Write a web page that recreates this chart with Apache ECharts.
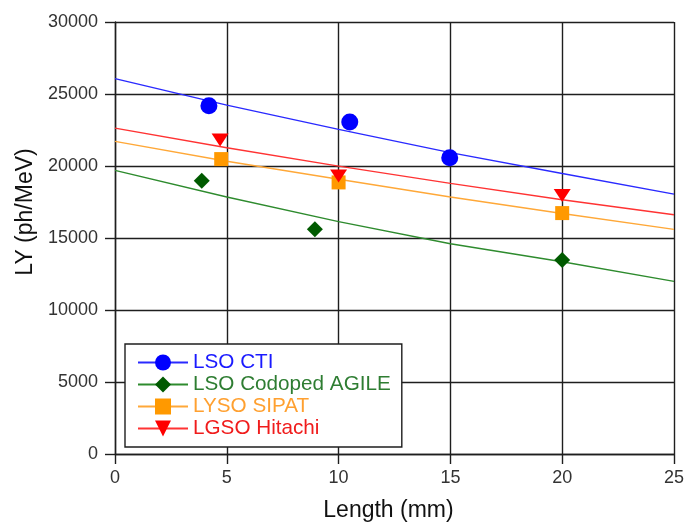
<!DOCTYPE html>
<html>
<head>
<meta charset="utf-8">
<script src="https://cdn.jsdelivr.net/npm/echarts@6/dist/echarts.min.js"></script>
<style>html,body{margin:0;padding:0;background:#fff}#chart{width:687px;height:527px}</style>
</head>
<body>
<div id="chart"></div>
<script>
// Measured points
const ctiX = [4.2, 10.5, 14.97];
const ctiY = [24190, 23050, 20580];
const agileX = [3.88, 8.94, 20];
const agileY = [18970, 15600, 13470];
const sipatX = [4.75, 10, 20];
const sipatY = [20480, 18860, 16730];
const hitachiX = [4.7, 10, 20];
const hitachiY = [21800, 19300, 17950];

// Fitted curves
const fitX = [0, 5, 10, 15, 20, 25];
const ctiFit = [26065, 24230, 22540, 20930, 19475, 18050];
const agileFit = [19700, 17850, 16140, 14600, 13350, 11990];
const sipatFit = [21710, 20330, 19080, 17850, 16700, 15600];
const hitachiFit = [22630, 21270, 19990, 18790, 17660, 16610];

const names = ['LSO CTI', 'LSO Codoped AGILE', 'LYSO SIPAT', 'LGSO Hitachi'];
const yTicks = [0, 5000, 10000, 15000, 20000, 25000, 30000];
const xTicks = [0, 5, 10, 15, 20, 25];

const FONT = 'Liberation Sans, Arial, sans-serif';
const zip = (xs, ys) => xs.map((x, i) => [x, ys[i]]);

const styles = [
  {marker: '#0000ff', line: '#2a2aff', text: '#1a1aff', symbol: 'circle', size: 17, rotate: 0},
  {marker: '#005a00', line: '#2e8b2e', text: '#2e7d32', symbol: 'diamond', size: 16, rotate: 0},
  {marker: '#ff9900', line: '#ffa838', text: '#ffa030', symbol: 'rect', size: 14, rotate: 0},
  {marker: '#ff0000', line: '#ff3333', text: '#f01c1c', symbol: 'triangle', size: [17, 13], rotate: 180}
];
const pts = [zip(ctiX, ctiY), zip(agileX, agileY), zip(sipatX, sipatY), zip(hitachiX, hitachiY)];
const fits = [zip(fitX, ctiFit), zip(fitX, agileFit), zip(fitX, sipatFit), zip(fitX, hitachiFit)];

const series = [];
names.forEach((n, i) => {
  const s = styles[i];
  series.push({
    name: n, type: 'line', data: fits[i], showSymbol: false,
    symbol: s.symbol, symbolRotate: s.rotate, z: 2,
    itemStyle: {color: s.marker},
    lineStyle: {color: s.line, width: 1.4},
    silent: true, animation: false
  });
});
names.forEach((n, i) => {
  const s = styles[i];
  series.push({
    name: n, type: 'scatter', data: pts[i],
    symbol: s.symbol, symbolSize: s.size, symbolRotate: s.rotate, z: 3,
    itemStyle: {color: s.marker, opacity: 1},
    animation: false
  });
});

const axisCommon = {
  axisLine: {show: true, onZero: false, lineStyle: {color: '#1e1e1e', width: 1.4}},
  axisTick: {show: true, inside: false, length: 10, lineStyle: {color: '#1e1e1e', width: 1.4}},
  splitLine: {show: true, lineStyle: {color: '#1e1e1e', width: 1.4}},
  nameLocation: 'middle'
};

const chart = echarts.init(document.getElementById('chart'), null, {renderer: 'canvas'});
chart.setOption({
  animation: false,
  backgroundColor: '#fff',
  grid: {left: 115, right: 9, top: 22, bottom: 68, containLabel: false},
  xAxis: Object.assign({}, axisCommon, {
    type: 'value', min: xTicks[0], max: xTicks[xTicks.length - 1], interval: 5,
    name: 'Length (mm)', nameGap: 45,
    nameTextStyle: {fontFamily: FONT, fontSize: 23, color: '#111', padding: [0, 12, 0, 0]},
    axisLabel: {fontFamily: FONT, fontSize: 18, color: '#333', margin: 15, formatter: v => String(v)}
  }),
  yAxis: Object.assign({}, axisCommon, {
    type: 'value', min: yTicks[0], max: yTicks[yTicks.length - 1], interval: 5000,
    name: 'LY (ph/MeV)', nameGap: 72,
    nameTextStyle: {fontFamily: FONT, fontSize: 23, color: '#111', padding: [0, 0, 0, 52]},
    axisLabel: {fontFamily: FONT, fontSize: 18, color: '#333', margin: 17, formatter: v => String(v)}
  }),
  legend: {
    orient: 'vertical', left: 125, top: 344,
    padding: [8, 11, 8, 12],
    itemWidth: 50, itemHeight: 20, itemGap: 1,
    backgroundColor: '#fff', borderColor: '#1e1e1e', borderWidth: 1.4, borderRadius: 0,
    textStyle: {fontFamily: FONT, fontSize: 20.7, lineHeight: 20, padding: [0, 0, 0, 0]},
    data: names.map((n, i) => ({name: n, textStyle: {color: styles[i].text}})),
    selectedMode: false
  },
  series: series
});
</script>
</body>
</html>
